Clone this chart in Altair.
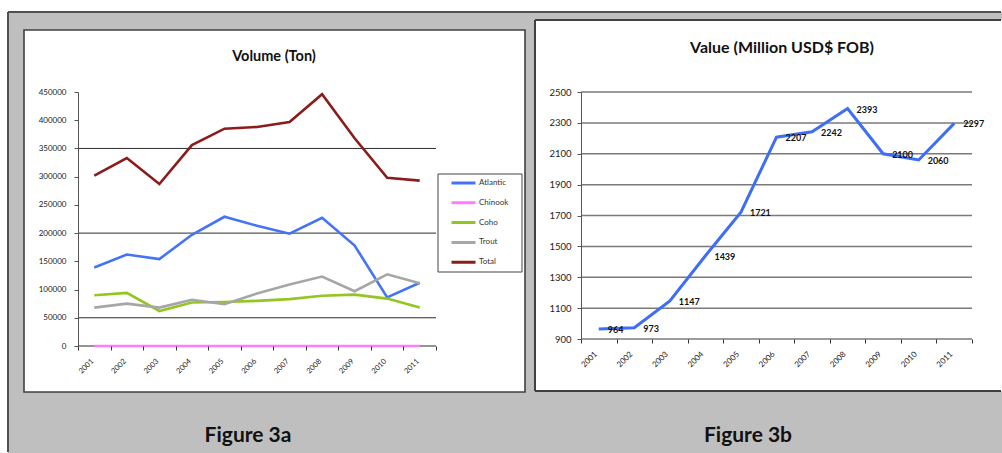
import altair as alt
import pandas as pd

# ---- data -------------------------------------------------------------
years = ["2001", "2002", "2003", "2004", "2005", "2006",
         "2007", "2008", "2009", "2010", "2011"]

atlantic = [139000, 162000, 154000, 197000, 229000, 213000,
            199000, 227000, 178000, 86000, 112000]
chinook = [0, 0, 0, 0, 0, 0, 0, 0, 0, 0, 0]
coho = [90000, 94000, 62000, 77000, 78000, 80000,
        83000, 89000, 91000, 84000, 68000]
trout = [68000, 75000, 68000, 82000, 74000, 93000,
         109000, 123000, 97000, 127000, 111000]
total = [302000, 333000, 287000, 356000, 385000, 388000,
         397000, 446000, 368000, 298000, 293000]

species = ["Atlantic", "Chinook", "Coho", "Trout", "Total"]
species_colors = ["#4474f5", "#ff7cff", "#93c622", "#a6a6a6", "#8b1c1c"]

value_musd = [964, 973, 1147, 1439, 1721, 2207, 2242, 2393, 2100, 2060, 2297]

volume_ticks = [0, 50000, 100000, 150000, 200000, 250000,
                300000, 350000, 400000, 450000]
volume_grid = [0, 50000, 200000, 350000]
value_ticks = [900, 1100, 1300, 1500, 1700, 1900, 2100, 2300, 2500]

FONT = "Lato"
INK = "#222222"

volume_df = pd.DataFrame({
    "year": years * 5,
    "species": sum([[s] * len(years) for s in species], []),
    "tons": atlantic + chinook + coho + trout + total,
})
value_df = pd.DataFrame({"year": years, "value": value_musd})
one = pd.DataFrame({"k": [0]})


def box(x, x2, y, y2, fill, stroke=None, width=0):
    kw = dict(fill=fill)
    if stroke:
        kw.update(stroke=stroke, strokeWidth=width)
    else:
        kw.update(strokeWidth=0)
    return alt.Chart(one).mark_rect(**kw).encode(
        x=alt.value(x), x2=alt.value(x2), y=alt.value(y), y2=alt.value(y2))


def hline(y, x, x2, color, width):
    return alt.Chart(one).mark_rule(color=color, strokeWidth=width).encode(
        y=alt.value(y), x=alt.value(x), x2=alt.value(x2))


def vline(x, y, y2, color, width):
    return alt.Chart(one).mark_rule(color=color, strokeWidth=width).encode(
        x=alt.value(x), y=alt.value(y), y2=alt.value(y2))


def label(text, x, y, size, weight="bold"):
    return alt.Chart(one).mark_text(
        text=text, font=FONT, fontSize=size, fontWeight=weight,
        color="#111111", align="center", baseline="alphabetic",
    ).encode(x=alt.value(x), y=alt.value(y))


def year_axis(size, offset):
    return alt.Axis(
        title=None, labelAngle=-45, tickBand="extent", domain=False,
        grid=False, tickSize=4, tickColor="#333333", labelColor=INK,
        labelFont=FONT, labelFontSize=size, labelPadding=7,
        labelOffset=offset, labelOverlap=False, zindex=1,
    )


def value_axis(values, size, pad):
    return alt.Axis(
        title=None, values=values, format="d", grid=False,
        domainColor="#555555", tickColor="#555555", tickSize=4,
        labelColor=INK, labelFont=FONT, labelFontSize=size, labelPadding=pad,
        labelOverlap=False, labelFlush=False, zindex=1,
    )


# ---- left: export volume ---------------------------------------------
LW, LH = 358, 254
vol_y = alt.Scale(domain=[0, 450000], nice=False, zero=True)
vol_axis = value_axis(volume_ticks, 8, 8)
band = alt.Scale(type="band", paddingInner=0, paddingOuter=0)

vol_grid = alt.Chart(pd.DataFrame({"tons": volume_grid})).mark_rule(
    color="#2b2b2b", strokeWidth=1
).encode(y=alt.Y("tons:Q", scale=vol_y, axis=vol_axis))

vol_lines = alt.Chart(volume_df).mark_line(strokeWidth=2.6).encode(
    x=alt.X("year:O", scale=band, bandPosition=0.5, axis=year_axis(7.5, -5)),
    y=alt.Y("tons:Q", scale=vol_y, axis=vol_axis),
    color=alt.Color("species:N", scale=alt.Scale(domain=species, range=species_colors),
                    legend=alt.Legend(
                        title=None, orient="none", legendX=372, legendY=85,
                        symbolType="stroke", symbolSize=576, symbolStrokeWidth=3,
                        clipHeight=12, rowPadding=7.8, padding=0,
                        labelFont=FONT, labelFontSize=8, labelColor="#333333",
                        labelOffset=2)),
    order=alt.Order("year:O"),
)

left = alt.layer(
    box(-78, 924, -92, 361, "#ffffff"),                 # page
    box(-70, 924, -80, 361, "#bfbfbf"),                 # grey frame
    vline(-70, -80, 360, "#505050", 2),
    hline(-80, -70, 923, "#505050", 2),
    box(-54, 447, -62, 300, "#ffffff", "#404040", 1.6),  # panel
    vol_grid,
    box(360, 444, 82, 180, "#ffffff", "#444444", 1),    # legend frame
    vol_lines,
    label("Volume (Ton)", 196, -31, 14.5),
    label("Figure 3a", 170, 350, 21),
).properties(width=LW, height=LH)

# ---- right: export value ---------------------------------------------
RW, RH = 391, 247
val_y = alt.Scale(domain=[900, 2500], nice=False, zero=False)
val_axis = value_axis(value_ticks, 9.5, 6)

val_grid = alt.Chart(pd.DataFrame({"value": value_ticks})).mark_rule(
    color="#7a7a7a", strokeWidth=1.5
).encode(y=alt.Y("value:Q", scale=val_y, axis=val_axis))

val_base = alt.Chart(value_df).encode(
    x=alt.X("year:O", scale=band, bandPosition=0.5, axis=year_axis(8, -6)),
    y=alt.Y("value:Q", scale=val_y, axis=val_axis),
)
val_line = val_base.mark_line(color="#3d6ef5", strokeWidth=3)
val_text = val_base.mark_text(
    align="left", baseline="middle", dx=9, dy=1, font=FONT,
    fontSize=9, fontWeight="bold", color="#111111",
).encode(text=alt.Text("value:Q", format="d"))

right = alt.layer(
    box(-46, 421, -72, 299, "#ffffff"),                 # panel
    vline(-46, -72, 299, "#404040", 2),
    hline(-72, -46, 420, "#404040", 2),
    hline(299, -46, 420, "#404040", 2),
    val_grid,
    val_line,
    val_text,
    label("Value (Million USD$ FOB)", 201, -39, 16),
    label("Figure 3b", 167, 350, 21),
).properties(width=RW, height=RH)

chart = alt.hconcat(
    left, right, spacing=145, bounds="flush", padding=0,
).configure(background="white", font=FONT).configure_view(stroke=None)

chart.save("out.html", embed_options={"renderer": "svg", "actions": False})
